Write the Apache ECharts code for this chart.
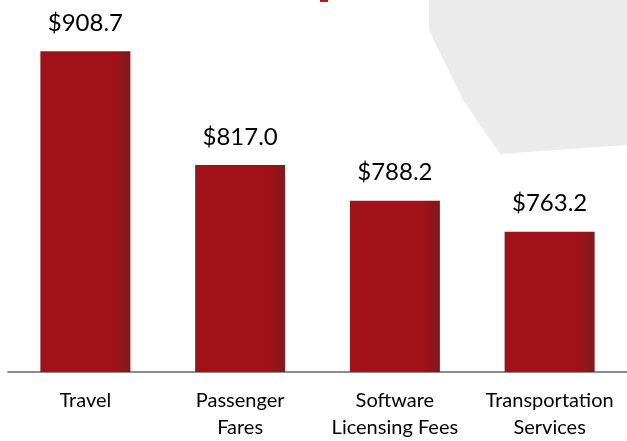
<!DOCTYPE html>
<html>
<head>
<meta charset="utf-8">
<script src="https://cdn.jsdelivr.net/npm/echarts@6/dist/echarts.min.js"></script>
<style>
html,body{margin:0;padding:0;background:#fff;}
#chart{width:627px;height:441px;}
</style>
</head>
<body>
<div id="chart"></div>
<script>
var categories = ['Travel', 'Passenger\nFares', 'Software\nLicensing Fees', 'Transportation\nServices'];
var values = [908.7, 817.0, 788.2, 763.2];
var valueLabels = ['$908.7', '$817.0', '$788.2', '$763.2'];

var chart = echarts.init(document.getElementById('chart'));
var barColor = new echarts.graphic.LinearGradient(0, 0, 1, 0, [
  {offset: 0, color: '#a11119'},
  {offset: 0.82, color: '#a11119'},
  {offset: 1, color: '#7a1c1e'}
]);
chart.setOption({
  animation: false,
  backgroundColor: '#ffffff',
  graphic: [
    {type: 'polygon', z: -10, shape: {points: [[429,0],[429,30],[463,100],[500,154],[627,145],[627,0]]}, style: {fill: '#ebebeb'}},
    {type: 'rect', z: -10, shape: {x: 320, y: 0, width: 8, height: 2}, style: {fill: '#c0141c'}}
  ],
  grid: {left: 8, right: -6, top: -3, bottom: 68, containLabel: false},
  xAxis: {
    type: 'category',
    data: categories,
    axisLine: {show: true, lineStyle: {color: '#8c8c8c', width: 2}},
    axisTick: {show: false},
    axisLabel: {
      interval: 0, margin: 15, color: '#000', fontFamily: 'Lato', fontSize: 20, lineHeight: 27
    }
  },
  yAxis: {type: 'value', min: 650, max: 950, show: false, splitLine: {show: false}},
  series: [{
    type: 'bar',
    data: values,
    barWidth: 90,
    itemStyle: {color: barColor},
    label: {
      show: true, position: 'top', distance: 16,
      fontFamily: 'Lato', fontSize: 24, lineHeight: 24, color: '#000',
      formatter: function (p) { return valueLabels[p.dataIndex]; }
    }
  }]
});
</script>
</body>
</html>
